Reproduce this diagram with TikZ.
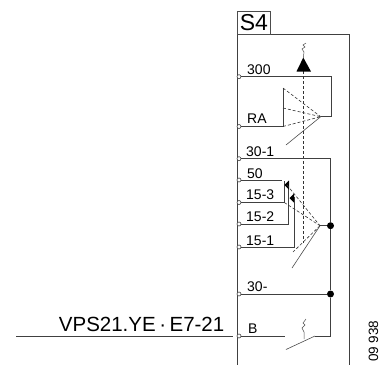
\documentclass[tikz,border=0pt]{standalone}
\usepackage{fontspec}
\setmainfont{Liberation Sans}
\begin{document}
\begin{tikzpicture}[x=1pt,y=-1pt,
  wire/.style={line width=0.9pt,draw=black!75},
  thin wire/.style={line width=0.6pt,draw=black!70},
  dash wire/.style={line width=0.6pt,draw=black!80,dash pattern=on 3pt off 2pt},
  term/.style={circle,draw=black!75,fill=white,line width=0.6pt,inner sep=0pt,minimum size=4pt},
  dotn/.style={circle,fill=black,inner sep=0pt,minimum size=7pt},
  lab/.style={anchor=base west,inner sep=0pt,font=\fontsize{14}{14}\selectfont},
  headtip/.style={fill=black,draw=none}]
\useasboundingbox (0,0) rectangle (384,365);
% enclosure
\draw[wire] (237,365) -- (237,34) -- (349,34) -- (349,365);
\node[draw=black!70,line width=0.9pt,fill=white,anchor=north west,inner sep=0pt,minimum width=33pt,minimum height=23pt,font=\fontsize{23}{23}\selectfont] (s4) at (237,11) {S4};
% terminals
\node[term] (t300) at (239,76.7) {};
\node[term] (tRA) at (239,126.5) {};
\node[term] (t301) at (239,158.7) {};
\node[term] (t50) at (239,180) {};
\node[term] (t153) at (239,202.5) {};
\node[term] (t152) at (239,224) {};
\node[term] (t151) at (239,247) {};
\node[term] (t30) at (239,294) {};
\node[term] (tB) at (239,336) {};
% labels
\node[lab] at (247,74) {300};
\node[lab] at (247,123) {RA};
\node[lab] at (246,156) {30-1};
\node[lab] at (247,178) {50};
\node[lab] at (246,199.5) {15-3};
\node[lab] at (246,221.5) {15-2};
\node[lab] at (246,245) {15-1};
\node[lab] at (247,291) {30-};
\node[lab] at (248,333) {B};
% upper switch
\coordinate (tipA) at (320.7,116.7);
\coordinate (rA) at (283,126.5);
\draw[wire] (t300) -- (331,76.7) -- (331,116.7) -- (tipA);
\draw[wire] (tRA) -- (rA) -- (283,88);
\draw[dash wire] (283,88) -- (tipA);
\draw[dash wire] (283,108) -- (tipA);
\draw[dash wire] (rA) -- (tipA);
\draw[thin wire] (tipA) -- (286,145);
% actuator
\draw[dash wire] (303.3,71) -- (303.3,243);
\fill[headtip] (303.3,57.5) -- (296.5,71.5) -- (311,71.5) -- cycle;
\draw[thin wire,line width=0.5pt] (303.3,58) -- (304,52) -- (302,49) -- (305,47) -- (303,45) -- (306,43);
% lower switch
\coordinate (tipB) at (320,225.7);
\node[dotn] (d1) at (330.5,225.7) {};
\node[dotn] (d2) at (330.5,294) {};
\coordinate (cE) at (315,336);
\draw[wire] (t301) -- (330.5,158.7) -- (d1) -- (d2) -- (330.5,336) -- (cE);
\draw[wire] (tipB) -- (d1);
\draw[wire] (t30) -- (d2);
\draw[wire] (t50) -- (281.7,180);
\draw[wire] (t153) -- (284.3,202.5) -- (284.3,181);
\draw[wire] (t152) -- (288.7,224) -- (288.7,185);
\draw[wire] (t151) -- (294,247) -- (294,197);
\fill[headtip] (284.3,185) -- (289,180.5) -- (289,189.5) -- cycle;
\fill[headtip] (289.5,198) -- (294,193.5) -- (294,202.5) -- cycle;
\draw[dash wire] (287,185) -- (tipB);
\draw[dash wire] (284.3,202.5) -- (tipB);
\draw[dash wire] (tipB) -- (293,252);
\draw[thin wire] (tipB) -- (292,268);
% bottom contact
\draw[wire] (tB) -- (285,336);
\draw[thin wire] (286,349.5) -- (cE);
\draw[thin wire,line width=0.5pt] (304,339) -- (304,332) -- (302,328) -- (305,325) -- (303,323) -- (306,319);
% outside
\coordinate (ext) at (16,336);
\coordinate (extEnd) at (232.5,336);
\draw[wire] (ext) -- (extEnd);
\node[anchor=base east,inner sep=0pt,font=\fontsize{20.5}{21}\selectfont] (vps) at (224.5,331.5) {VPS21.YE\kern3.5pt·\kern3.5pt E7-21};
\node[anchor=base west,rotate=90,inner sep=0pt,font=\fontsize{13.5}{14}\selectfont] (num) at (378,362) {09 938};
\end{tikzpicture}
\end{document}
